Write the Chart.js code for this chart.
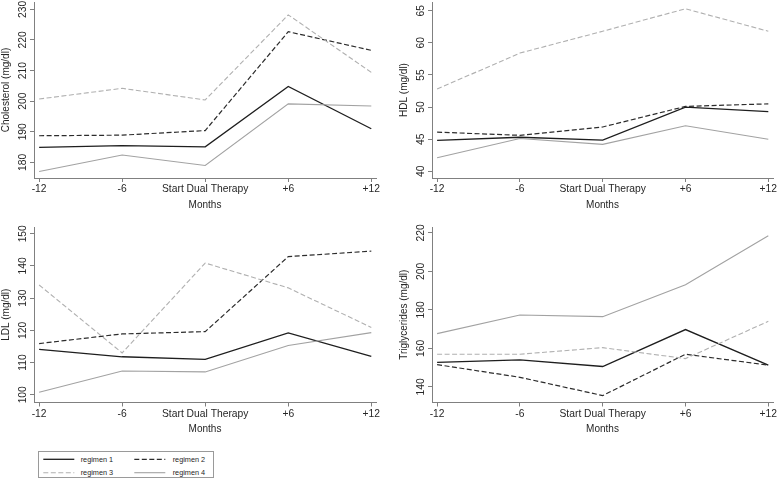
<!DOCTYPE html>
<html>
<head>
<meta charset="utf-8">
<script src="https://cdn.jsdelivr.net/npm/chart.js@4.4.1/dist/chart.umd.min.js"></script>
<style>
  html, body { margin: 0; padding: 0; background: #fff; }
  body { width: 778px; height: 481px; position: relative; overflow: hidden; font-family: "Liberation Sans", Arial, sans-serif; }
  canvas { position: absolute; }
  #legend { position: absolute; left: 38px; top: 451px; width: 174px; height: 25px; border: 1px solid #9a9a9a; }
  #legend svg { position: absolute; }
</style>
</head>
<body>
<canvas id="c1"></canvas>
<canvas id="c2"></canvas>
<canvas id="c3"></canvas>
<canvas id="c4"></canvas>
<div id="legend"></div>
<script>
// categorias del eje x (meses respecto al inicio de la terapia dual)
const months = ['-12', '-6', 'Start Dual Therapy', '+6', '+12'];
const monthPos = [-12, -6, 0, 6, 12];
const regimens = ['regimen 1', 'regimen 2', 'regimen 3', 'regimen 4'];

// Cholesterol (mg/dl)
const chol1 = [184.9, 185.5, 185.1, 204.8, 191.0];
const chol2 = [188.7, 188.9, 190.4, 222.7, 216.6];
const chol3 = [200.7, 204.2, 200.4, 228.2, 209.4];
const chol4 = [177.0, 182.4, 179.0, 199.1, 198.4];
const cholTicks = [180, 190, 200, 210, 220, 230];

// HDL (mg/dl)
const hdl1 = [44.8, 45.3, 44.85, 50.0, 49.3];
const hdl2 = [46.1, 45.6, 46.9, 50.1, 50.5];
const hdl3 = [52.8, 58.4, 61.8, 65.3, 61.8];
const hdl4 = [42.1, 45.1, 44.2, 47.1, 45.0];
const hdlTicks = [40, 45, 50, 55, 60, 65];

// LDL (mg/dl)
const ldl1 = [114.1, 111.8, 111.0, 119.2, 111.9];
const ldl2 = [115.9, 118.9, 119.6, 142.9, 144.6];
const ldl3 = [134.1, 113.0, 140.9, 133.2, 120.9];
const ldl4 = [100.8, 107.4, 107.1, 115.3, 119.3];
const ldlTicks = [100, 110, 120, 130, 140, 150];

// Triglycerides (mg/dl)
const tg1 = [152.8, 154.0, 150.6, 169.8, 151.3];
const tg2 = [151.6, 145.0, 135.5, 157.0, 151.3];
const tg3 = [157.0, 157.0, 160.4, 154.7, 174.1];
const tg4 = [167.7, 177.4, 176.5, 193.1, 218.6];
const tgTicks = [140, 160, 180, 200, 220];

// estilos de linea por regimen
const lineStyles = [
    { color: '#1e1e1e', dash: [], width: 1.3 },
    { color: '#2c2c2c', dash: [5, 2.5], width: 1.2 },
    { color: '#b0b0b0', dash: [5, 2.5], width: 1.1 },
    { color: '#a2a2a2', dash: [], width: 1.1 }
];

const tickFont = { family: 'Liberation Sans', size: 10.3 };
const titleFont = { family: 'Liberation Sans', size: 10 };
const axisColor = '#808080';
const textColor = '#262626';
const TICK_LEN = 4;

function labelWidth(texts) {
    const ctx = document.createElement('canvas').getContext('2d');
    ctx.font = tickFont.size + 'px "' + tickFont.family + '"';
    return Math.max(...texts.map(t => ctx.measureText(String(t)).width));
}

function makePanel(id, box, area, yTitle, series, yTicks, yMin, yMax) {
    const canvas = document.getElementById(id);
    canvas.width = box.width;
    canvas.height = box.height;
    canvas.style.left = box.left + 'px';
    canvas.style.top = box.top + 'px';

    const yAxisWidth = area.left - box.left;
    const xAxisHeight = box.top + box.height - area.bottom;
    const yLabelPad = 11 - TICK_LEN - labelWidth(yTicks) / 2;

    const gridOpts = { drawOnChartArea: false, drawTicks: true, tickLength: TICK_LEN, color: axisColor, lineWidth: 1 };
    const borderOpts = { display: true, color: axisColor, width: 1 };

    new Chart(canvas, {
        type: 'line',
        data: {
            datasets: series.map((vals, i) => ({
                label: regimens[i],
                data: vals.map((v, j) => ({ x: monthPos[j], y: v })),
                borderColor: lineStyles[i].color,
                borderDash: lineStyles[i].dash,
                borderWidth: lineStyles[i].width,
                pointRadius: 0,
                tension: 0,
                fill: false,
                order: series.length - i
            }))
        },
        options: {
            responsive: false,
            animation: false,
            events: [],
            layout: {
                padding: { left: 0, top: area.top - box.top, right: box.left + box.width - area.right, bottom: 0 }
            },
            plugins: { legend: { display: false }, tooltip: { enabled: false } },
            scales: {
                x: {
                    type: 'linear',
                    bounds: 'data',
                    min: -12.37,
                    max: 12.34,
                    afterBuildTicks: s => { s.ticks = monthPos.map(v => ({ value: v })); },
                    afterFit: s => { s.height = xAxisHeight; s.paddingLeft = 0; s.paddingRight = 0; },
                    ticks: {
                        callback: v => months[monthPos.indexOf(v)],
                        autoSkip: false, minRotation: 0, maxRotation: 0,
                        padding: 1.3, font: tickFont, color: textColor
                    },
                    grid: gridOpts,
                    border: borderOpts,
                    title: {
                        display: true, text: 'Months', font: titleFont, color: textColor,
                        padding: { top: 0, bottom: xAxisHeight - 33 }
                    }
                },
                y: {
                    type: 'linear',
                    bounds: 'data',
                    min: yMin,
                    max: yMax,
                    afterBuildTicks: s => { s.ticks = yTicks.map(v => ({ value: v })); },
                    afterFit: s => { s.width = yAxisWidth; s.paddingTop = 0; s.paddingBottom = 0; },
                    ticks: {
                        autoSkip: false, minRotation: 90, maxRotation: 90, crossAlign: 'center',
                        padding: yLabelPad, font: tickFont, color: textColor
                    },
                    grid: gridOpts,
                    border: borderOpts,
                    title: {
                        display: true, text: yTitle, font: titleFont, color: textColor,
                        padding: { top: yAxisWidth - 33.5, bottom: 0 }
                    }
                }
            }
        }
    });
}

makePanel('c1', { left: 0, top: 0, width: 389, height: 215 }, { left: 34, right: 376, top: 2, bottom: 178 },
    'Cholesterol (mg/dl)', [chol1, chol2, chol3, chol4], cholTicks, 174.9, 232.4);
makePanel('c2', { left: 389, top: 0, width: 389, height: 215 }, { left: 432, right: 773, top: 2, bottom: 178 },
    'HDL (mg/dl)', [hdl1, hdl2, hdl3, hdl4], hdlTicks, 38.96, 66.35);
makePanel('c3', { left: 0, top: 220, width: 389, height: 220 }, { left: 34, right: 376, top: 227, bottom: 402.5 },
    'LDL (mg/dl)', [ldl1, ldl2, ldl3, ldl4], ldlTicks, 97.6, 152.1);
makePanel('c4', { left: 389, top: 220, width: 389, height: 220 }, { left: 432, right: 773, top: 227, bottom: 402.5 },
    'Triglycerides (mg/dl)', [tg1, tg2, tg3, tg4], tgTicks, 131.9, 223.1);

// leyenda: dos columnas, dos filas, dibujada en un solo SVG
const legendSlots = [
    { x: 4.3, y: 7.3, tx: 41.7 },
    { x: 95.3, y: 7.3, tx: 133.7 },
    { x: 4.3, y: 20.7, tx: 41.7 },
    { x: 95.3, y: 20.7, tx: 133.7 }
];
const SVGNS = 'http://www.w3.org/2000/svg';
const legend = document.getElementById('legend');
const svg = document.createElementNS(SVGNS, 'svg');
svg.setAttribute('width', 174);
svg.setAttribute('height', 25);
svg.style.left = '0px';
svg.style.top = '0px';
regimens.forEach((name, i) => {
    const slot = legendSlots[i];
    const st = lineStyles[i];
    const ln = document.createElementNS(SVGNS, 'line');
    ln.setAttribute('x1', slot.x); ln.setAttribute('x2', slot.x + 31);
    ln.setAttribute('y1', slot.y); ln.setAttribute('y2', slot.y);
    ln.setAttribute('stroke', st.color);
    ln.setAttribute('stroke-width', st.width);
    if (st.dash.length) ln.setAttribute('stroke-dasharray', st.dash.join(' '));
    svg.appendChild(ln);

    const txt = document.createElementNS(SVGNS, 'text');
    txt.textContent = name;
    txt.setAttribute('x', slot.tx);
    txt.setAttribute('y', slot.y);
    txt.setAttribute('dominant-baseline', 'central');
    txt.setAttribute('font-family', 'Liberation Sans');
    txt.setAttribute('font-size', '7.3');
    txt.setAttribute('fill', '#262626');
    svg.appendChild(txt);
});
legend.appendChild(svg);
</script>
</body>
</html>
